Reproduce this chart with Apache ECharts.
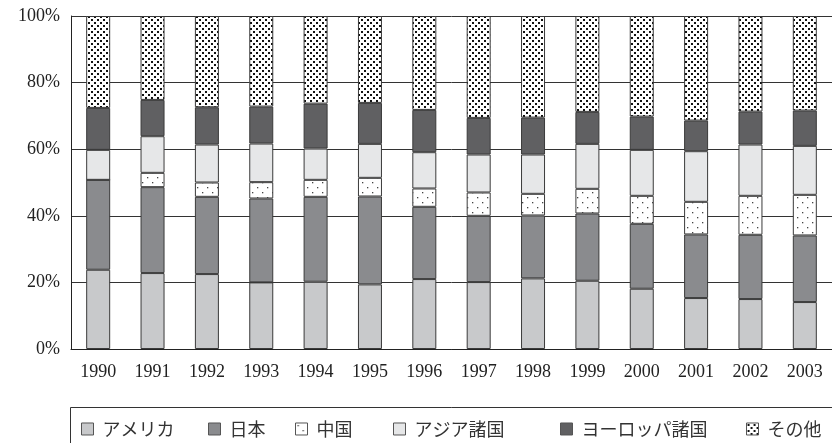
<!DOCTYPE html>
<html>
<head>
<meta charset="utf-8">
<script src="https://cdn.jsdelivr.net/npm/echarts@6/dist/echarts.min.js"></script>
<style>
  html, body { margin: 0; padding: 0; background: #fff; }
  #chart { width: 832px; height: 443px; }
</style>
</head>
<body>
<div id="chart"></div>
<script>
// Share (%) by destination, 1990–2003
const years = ['1990','1991','1992','1993','1994','1995','1996','1997','1998','1999','2000','2001','2002','2003'];
const seriesNames = ['アメリカ', '日本', '中国', 'アジア諸国', 'ヨーロッパ諸国', 'その他'];
const america = [23.8, 22.8, 22.5, 20.0, 20.2, 19.4, 21.0, 20.1, 21.2, 20.5, 18.1, 15.3, 15.0, 14.1];
const japan   = [27.0, 25.8, 23.2, 25.2, 25.5, 26.4, 21.7, 19.9, 18.9, 20.2, 19.5, 19.1, 19.3, 20.0];
const china   = [0.0, 4.3, 4.3, 4.9, 5.1, 5.6, 5.5, 7.0, 6.5, 7.4, 8.4, 9.8, 11.7, 12.2];
const asia    = [9.0, 11.0, 11.4, 11.6, 9.4, 10.2, 10.9, 11.4, 11.8, 13.5, 13.8, 15.2, 15.4, 14.7];
const europe  = [12.6, 10.9, 11.2, 11.1, 13.5, 12.3, 12.7, 11.0, 11.1, 9.6, 10.0, 9.2, 9.9, 10.6];
const others  = [27.6, 25.2, 27.4, 27.2, 26.3, 26.1, 28.2, 30.6, 30.5, 28.8, 30.2, 31.4, 28.7, 28.4];
const yTicks = [0, 20, 40, 60, 80, 100];

// Dot-screen fills built on small tiles
function dotPattern(size, dots, dotSize, dotColor) {
  const c = document.createElement('canvas');
  c.width = size; c.height = size;
  const ctx = c.getContext('2d');
  ctx.fillStyle = '#fff';
  ctx.fillRect(0, 0, size, size);
  ctx.fillStyle = dotColor;
  dots.forEach(([x, y]) => ctx.fillRect(x, y, dotSize, dotSize));
  return { image: c, repeat: 'repeat' };
}
const denseDots = dotPattern(6, [[1, 1], [4, 4]], 2, '#111');
const sparseDots = dotPattern(10, [[2, 2], [7, 7]], 1.3, '#444');

const fills = ['#c8c9cb', '#8a8b8e', sparseDots, '#e6e7e8', '#606062', denseDots];
const values = [america, japan, china, asia, europe, others];

const serif = '"Liberation Serif", "DejaVu Serif", serif';
const cjk = '"Noto Sans CJK JP", sans-serif';

// one legend entry per series, laid out along the bottom box
const legendLeft = [81, 208, 295, 393, 560, 746];
const legends = seriesNames.map((name, i) => ({
  left: legendLeft[i],
  top: 420,
  padding: 0,
  itemWidth: 12,
  itemHeight: 12,
  icon: 'rect',
  itemStyle: { borderColor: '#555', borderWidth: 1 },
  textStyle: { fontFamily: cjk, fontSize: 18, color: '#333', padding: [0, 0, 0, 4] },
  data: [name]
}));

const chart = echarts.init(document.getElementById('chart'), null, { renderer: 'canvas' });
chart.setOption({
  animation: false,
  backgroundColor: '#fff',
  grid: { left: 71, top: 16, width: 764, height: 333, containLabel: false },
  legend: legends,
  graphic: [{
    type: 'rect',
    shape: { x: 70.5, y: 407.5, width: 800, height: 60 },
    style: { fill: 'none', stroke: '#333', lineWidth: 1 },
    z: -1
  }],
  xAxis: {
    type: 'category',
    data: years,
    axisLine: { lineStyle: { color: '#222', width: 1 } },
    axisTick: { inside: true, length: 5, lineStyle: { color: '#222' } },
    axisLabel: { fontFamily: serif, fontSize: 18, color: '#222', margin: 14 }
  },
  yAxis: {
    type: 'value',
    min: 0, max: 100, interval: 20,
    axisLine: { show: true, lineStyle: { color: '#222', width: 1 } },
    axisTick: { show: false },
    splitLine: { lineStyle: { color: '#333', width: 1 } },
    axisLabel: {
      fontFamily: serif, fontSize: 18, color: '#222', margin: 11,
      formatter: v => (yTicks.includes(v) ? v + '%' : '')
    }
  },
  series: seriesNames.map((name, i) => ({
    name,
    type: 'bar',
    stack: 'share',
    data: values[i],
    barWidth: 24,
    itemStyle: { color: fills[i], borderColor: '#3a3a3a', borderWidth: 1 },
    emphasis: { disabled: true }
  }))
});
</script>
</body>
</html>
